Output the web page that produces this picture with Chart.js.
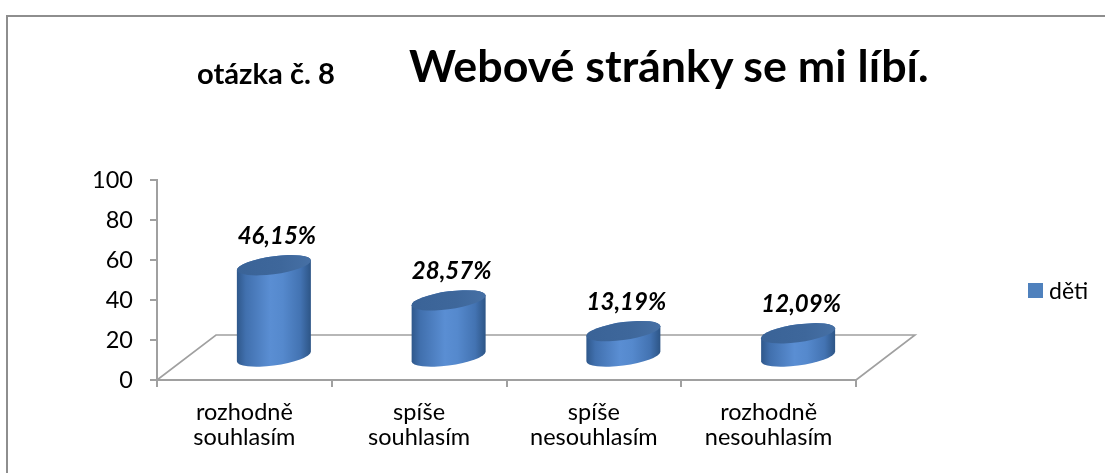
<!DOCTYPE html>
<html>
<head>
<meta charset="utf-8">
<script src="https://cdn.jsdelivr.net/npm/chart.js@4.4.1/dist/chart.umd.min.js"></script>
<style>
  html, body { margin:0; padding:0; background:#fff; overflow:hidden; }
  body { width:1105px; height:473px; position:relative; font-family: Lato, "Open Sans", sans-serif; }
  #frame { position:absolute; left:6px; top:15px; width:1300px; height:700px;
           border-left:2px solid #8E8E8E; border-top:2px solid #8E8E8E; box-sizing:border-box; }
  #wrap { position:absolute; left:0; top:0; width:1105px; height:473px; }
  .txt { position:absolute; white-space:nowrap; line-height:1; color:#000; font-family: Lato, sans-serif; }
  #legendBox { position:absolute; left:1028px; top:283px; width:15px; height:15px; background:#4F81BD; }
</style>
</head>
<body>
<div id="frame"></div>
<div id="wrap"><canvas id="c" width="1105" height="473"></canvas></div>
<div id="t1" class="txt" style="font-weight:700">otázka č. 8</div>
<div id="t2" class="txt" style="font-weight:700">Webové stránky se mi líbí.</div>
<div id="legendBox"></div>
<div id="legText" class="txt">děti</div>
<script>
// ---- data ----
const categories = [['rozhodně','souhlasím'], ['spíše','souhlasím'], ['spíše','nesouhlasím'], ['rozhodně','nesouhlasím']];
const values = [46.15, 28.57, 13.19, 12.09];
const yTicks = [0, 20, 40, 60, 80, 100];
const seriesName = 'děti';
const subTitle = 'otázka č. 8';
const mainTitle = 'Webové stránky se mi líbí.';

// ---- text placement helpers ----
const mctx = document.createElement('canvas').getContext('2d');
function fitText(id, text, weight, left, width, baseline) {
  const el = document.getElementById(id);
  el.textContent = text;
  mctx.font = weight + ' 100px Lato';
  const w = mctx.measureText(text).width;
  const size = 100 * width / w;
  el.style.fontSize = size + 'px';
  el.style.left = left + 'px';
  el.style.top = (baseline - 0.887 * size) + 'px';
}
fitText('t1', subTitle, 700, 197, 138, 84);
fitText('t2', mainTitle, 700, 409, 521, 83);
(function(){
  const el = document.getElementById('legText');
  el.textContent = seriesName;
  el.style.fontSize = '23px';
  el.style.left = '1049px';
  el.style.top = (299 - 0.887*23) + 'px';
})();

// ---- 3D look parameters ----
const DEPTH_X = 59, DEPTH_Y = 45, RY = 9, SHEAR = 0.13;
const gridColor = '#A0A0A0';

const floorPlugin = {
  id: 'floor3d',
  beforeDatasetsDraw(chart) {
    const {ctx} = chart;
    const x = chart.scales.x, y = chart.scales.y;
    const y0 = y.getPixelForValue(yTicks[0]);
    ctx.save();
    ctx.strokeStyle = gridColor;
    ctx.lineWidth = 1.6;
    ctx.beginPath();
    ctx.moveTo(x.left, y0);
    ctx.lineTo(x.left + DEPTH_X, y0 - DEPTH_Y);
    ctx.lineTo(x.right + DEPTH_X, y0 - DEPTH_Y);
    ctx.lineTo(x.right, y0);
    ctx.stroke();
    ctx.restore();
  }
};

const cylinderPlugin = {
  id: 'cylinders',
  afterDatasetsDraw(chart) {
    const {ctx} = chart;
    const meta = chart.getDatasetMeta(0);
    meta.data.forEach((bar, i) => {
      const rx = bar.width / 2;
      const cx = bar.x + DEPTH_X / 2;
      const by = bar.base - DEPTH_Y / 2;
      const h = bar.base - bar.y;
      ctx.save();
      ctx.translate(cx, by);
      ctx.transform(1, -SHEAR, 0, 1, 0, 0);
      // side
      const g = ctx.createLinearGradient(-rx, 0, rx, 0);
      g.addColorStop(0, '#2F588B');
      g.addColorStop(0.12, '#4170AE');
      g.addColorStop(0.45, '#5A8ED3');
      g.addColorStop(0.62, '#5589CD');
      g.addColorStop(0.86, '#4373B2');
      g.addColorStop(1, '#2D5586');
      ctx.beginPath();
      ctx.moveTo(-rx, -h);
      ctx.lineTo(-rx, 0);
      ctx.ellipse(0, 0, rx, RY, 0, Math.PI, 0, true);
      ctx.lineTo(rx, -h);
      ctx.ellipse(0, -h, rx, RY, 0, 0, Math.PI, true);
      ctx.closePath();
      ctx.fillStyle = g;
      ctx.fill();
      // top
      const gt = ctx.createLinearGradient(-rx, 0, rx, 0);
      gt.addColorStop(0, '#3A6397');
      gt.addColorStop(0.6, '#3E679B');
      gt.addColorStop(1, '#4670A5');
      ctx.beginPath();
      ctx.ellipse(0, -h, rx, RY, 0, 0, Math.PI * 2);
      ctx.fillStyle = gt;
      ctx.fill();
      ctx.restore();
      // value label
      const label = values[i].toFixed(2).replace('.', ',') + '%';
      ctx.save();
      ctx.font = 'italic 700 24px Lato';
      ctx.fillStyle = '#000';
      ctx.textAlign = 'center';
      ctx.textBaseline = 'middle';
      ctx.fillText(label, cx + 3, by - h - 29);
      ctx.restore();
    });
  }
};

new Chart(document.getElementById('c'), {
  type: 'bar',
  data: {
    labels: categories,
    datasets: [{
      label: seriesName,
      data: values,
      backgroundColor: 'rgba(0,0,0,0)',
      borderWidth: 0,
      categoryPercentage: 1,
      barPercentage: 0.4235
    }]
  },
  options: {
    responsive: false,
    animation: false,
    events: [],
    layout: { padding: { top: 180, right: 249, left: 0, bottom: 0 } },
    plugins: { legend: { display: false }, tooltip: { enabled: false }, title: { display: false } },
    scales: {
      y: {
        min: yTicks[0], max: yTicks[yTicks.length - 1],
        afterFit(s) { s.width = 157; },
        afterBuildTicks(s) { s.ticks = yTicks.map(v => ({ value: v })); },
        border: { display: true, color: gridColor, width: 2 },
        grid: { drawOnChartArea: false, drawTicks: true, tickLength: 7, color: gridColor, lineWidth: 2 },
        ticks: { color: '#000', font: { family: 'Lato', size: 23.5 }, padding: 17 }
      },
      x: {
        afterFit(s) { s.height = 93; },
        border: { display: true, color: gridColor, width: 2 },
        grid: { offset: true, drawOnChartArea: false, drawTicks: true, tickLength: 7, color: gridColor, lineWidth: 2 },
        ticks: { color: '#000', font: { family: 'Lato', size: 23.5, lineHeight: 1.1 }, padding: 12, maxRotation: 0, autoSkip: false }
      }
    }
  },
  plugins: [floorPlugin, cylinderPlugin]
});
</script>
</body>
</html>
